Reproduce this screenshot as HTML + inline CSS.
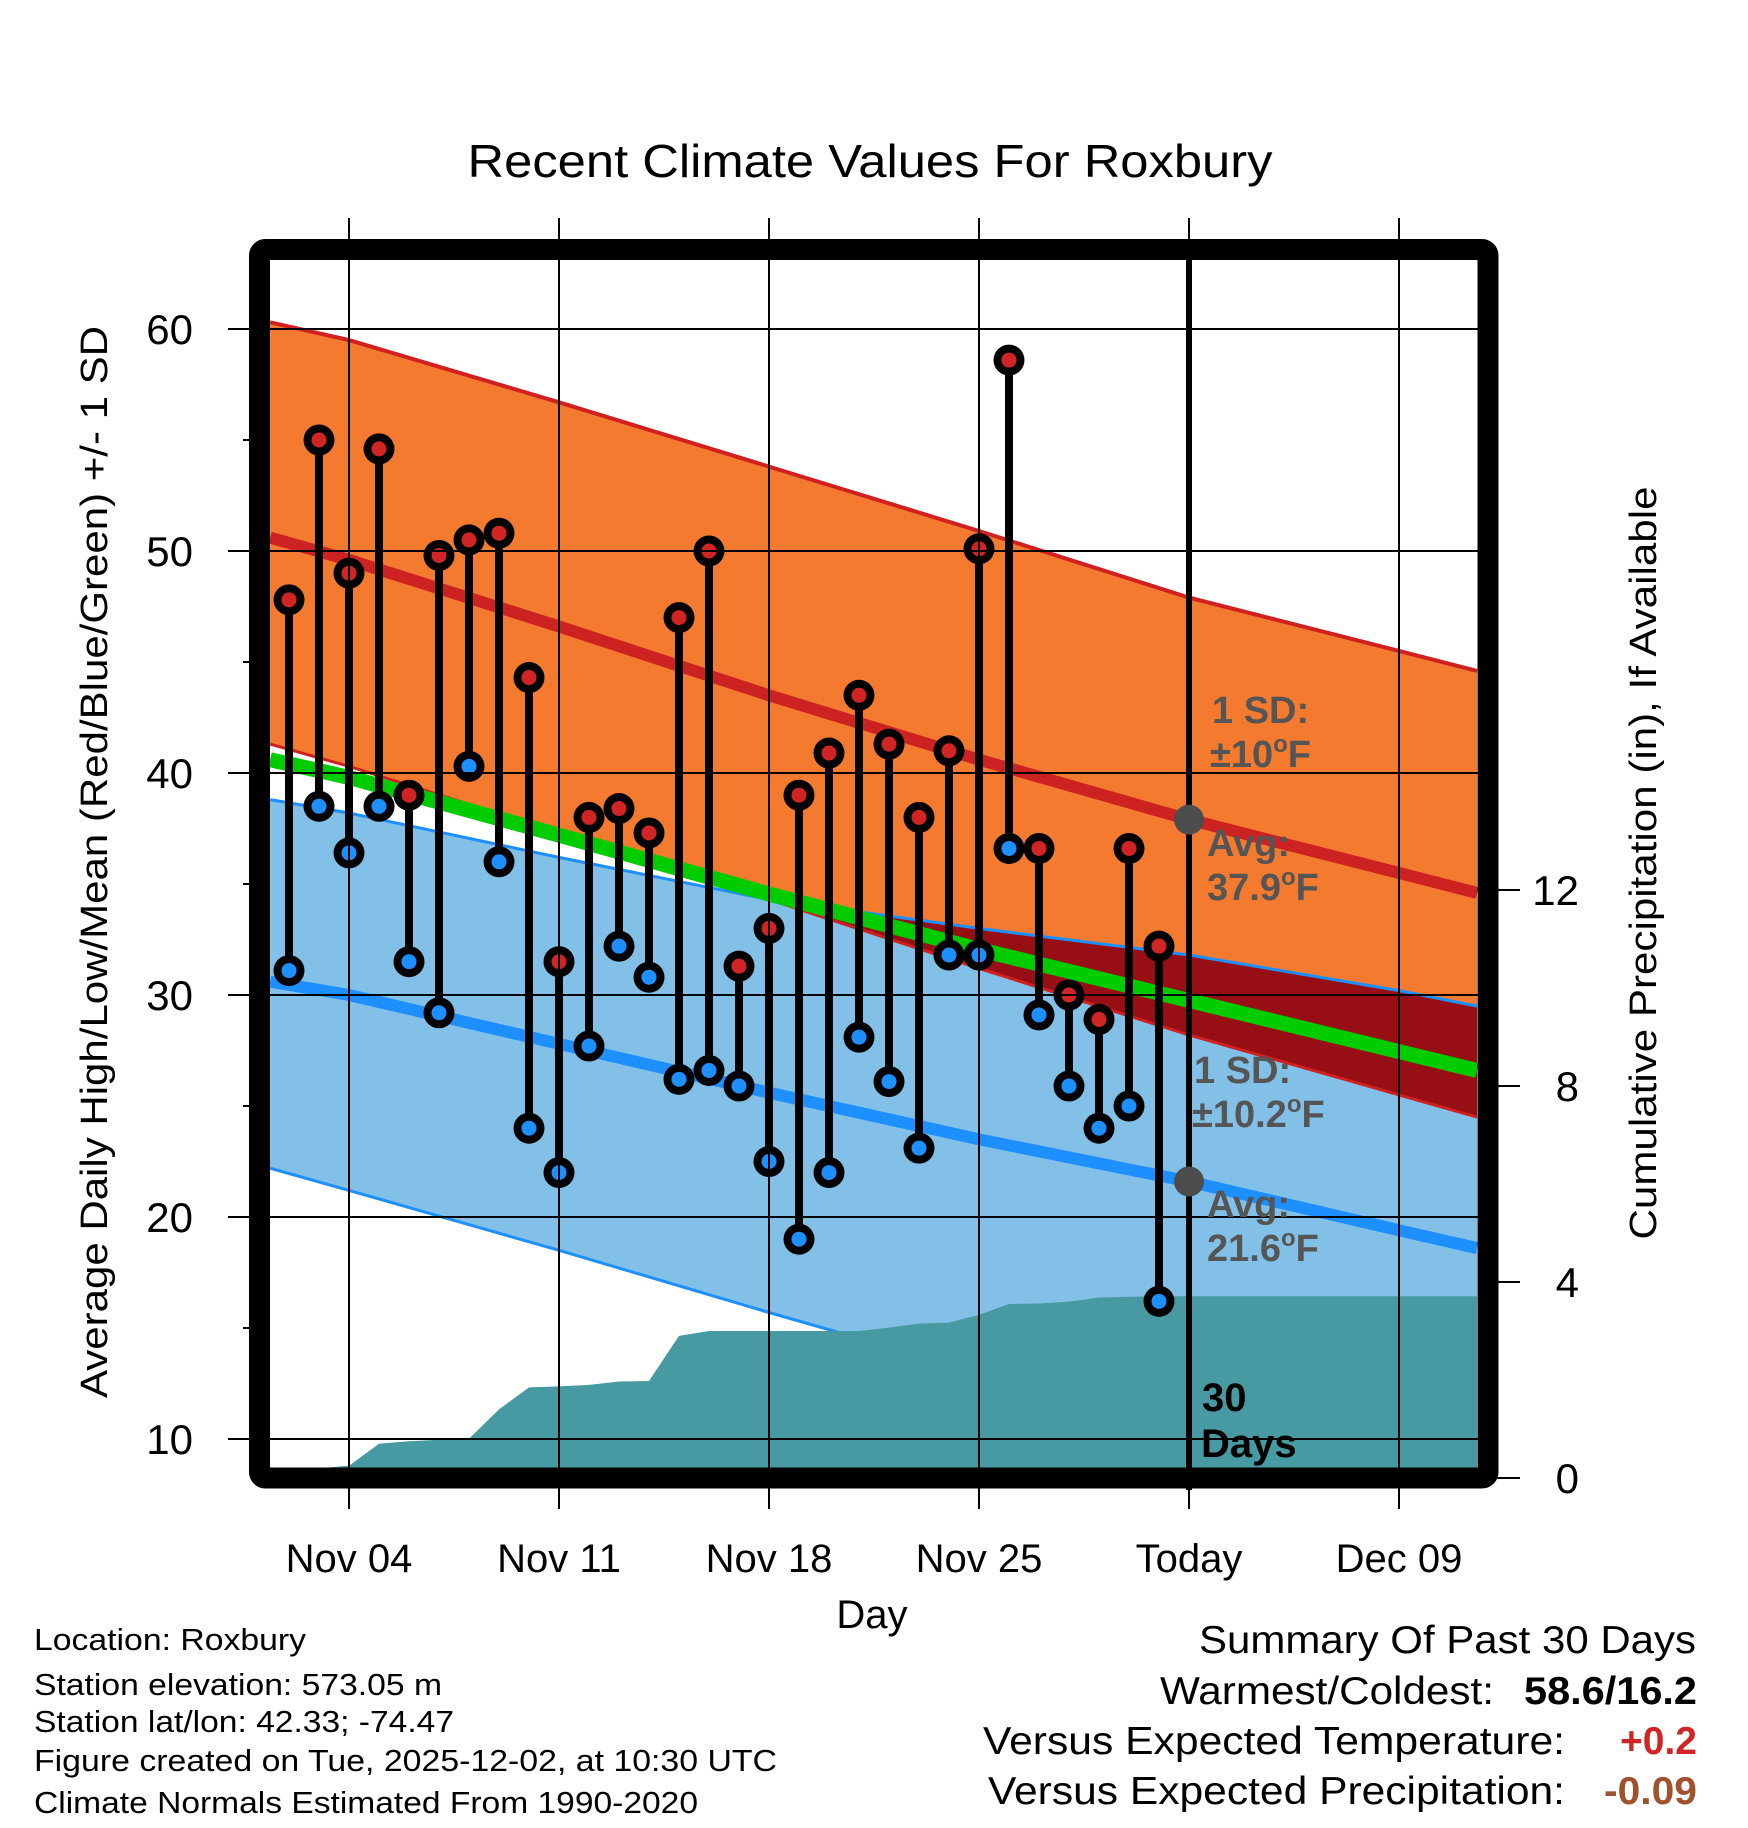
<!DOCTYPE html>
<html><head><meta charset="utf-8"><title>Recent Climate Values For Roxbury</title>
<style>html,body{margin:0;padding:0;background:#fff;}svg{display:block;font-family:"Liberation Sans",Arial,sans-serif;}</style>
</head><body>
<svg id="chart" width="1748" height="1828" viewBox="0 0 1748 1828" xmlns="http://www.w3.org/2000/svg">
<defs>
<clipPath id="plotClip"><rect x="270" y="260" width="1208" height="1208"/></clipPath>
</defs>
<g id="layer"></g>
</svg>
<script>
// ---- data ----
const obsDays = [2,3,4,5,6,7,8,9,10,11,12,13,14,15,16,17,18,19,20,21,22,23,24,25,26,27,28,29,30,31];
const highs = [47.8,55.0,49.0,54.6,39.0,49.8,50.5,50.8,44.3,31.5,38.0,38.4,37.3,47.0,50.0,31.3,33.0,39.0,40.9,43.5,41.3,38.0,41.0,50.1,58.6,36.6,30.0,28.9,36.6,32.2];
const lows = [31.1,38.5,36.4,38.5,31.5,29.2,40.3,36.0,24.0,22.0,27.7,32.2,30.8,26.2,26.6,25.9,22.5,19.0,22.0,28.1,26.1,23.1,31.8,31.8,36.6,29.1,25.9,24.0,25.0,16.2];
const precipCum = [0,0.2,0.25,0.7,0.75,0.78,0.8,1.4,1.85,1.87,1.9,1.97,1.98,2.9,3.0,3.0,3.0,3.0,3.0,3.0,3.07,3.15,3.17,3.33,3.55,3.56,3.6,3.68,3.7,3.71];
const normDays = [1.37,4,11,18,25,32,39,41.6];
const normHigh = [50.6,49.6,46.6,43.5,40.6,37.9,35.5,34.6];
const normHighPlus = [60.3,59.5,56.7,53.8,50.9,47.9,45.5,44.6];
const normHighMinus = [41.3,40.3,37.3,34.3,31.2,28.2,25.5,24.5];
const normLow = [30.6,30.0,27.8,25.6,23.5,21.6,19.4,18.6];
const normLowPlus = [38.8,38.2,36.2,34.3,33.0,31.8,30.2,29.5];
const normLowMinus = [22.2,21.2,18.5,15.7,13.0,10.3,7.6,6.6];
const xTickDays = [4,11,18,25,32,39];
const xTickLabels = ["Nov 04","Nov 11","Nov 18","Nov 25","Today","Dec 09"];
const yTicks = [10,20,30,40,50,60];
const yMinorTicks = [15,25,35,45,55];
const precipTicks = [0,4,8,12];

// ---- scales ----
const X = d => 349 + (d - 4) * 30;
const Y = t => 329 + (60 - t) * 22.2;
const P = p => 1478 - 49 * p;
const NS = "http://www.w3.org/2000/svg";
const root = document.getElementById('layer');
function mk(tag, attrs, parent) {
  const e = document.createElementNS(NS, tag);
  for (const k in attrs) e.setAttribute(k, attrs[k]);
  (parent || root).appendChild(e);
  return e;
}
const pts = (days, vals) => days.map((d, i) => X(d).toFixed(1) + ',' + Y(vals[i]).toFixed(1));
const bandPts = (a, b) => pts(normDays, a).concat(pts(normDays, b).reverse()).join(' ');

const plot = mk('g', {'clip-path': 'url(#plotClip)'});



let e = mk('polygon', {points: bandPts(normHighPlus, normHighMinus), fill: '#f47a2f'}, plot);


e = mk('polygon', {points: bandPts(normLowPlus, normLowMinus), fill: '#82c0e7'}, plot);


const defs = document.querySelector('defs');
const cp = mk('clipPath', {id: 'lowClip'}, defs);
mk('polygon', {points: bandPts(normLowPlus, normLowMinus)}, cp);
e = mk('polygon', {points: bandPts(normHighPlus, normHighMinus), fill: '#970f14', 'clip-path': 'url(#lowClip)'}, plot);



const grid = mk('g', {stroke: '#000', 'stroke-width': 2});


yTicks.forEach(t => mk('line', {x1: 228, x2: 1478, y1: Y(t), y2: Y(t)}, grid));
yMinorTicks.forEach(t => mk('line', {x1: 243, x2: 260, y1: Y(t), y2: Y(t)}, grid));
xTickDays.forEach(d => mk('line', {x1: X(d), x2: X(d), y1: 218, y2: 1509}, grid));
precipTicks.forEach(p => mk('line', {x1: 1490, x2: 1520, y1: P(p), y2: P(p)}, grid));

function line(vals, color, w, name) {
  const l = mk('polyline', {points: pts(normDays, vals).join(' '), fill: 'none', stroke: color, 'stroke-width': w}, plot);
  
  
}
line(normHighPlus, '#d02020', 4, 'high-plus-sd-line');
line(normHighMinus, '#d02020', 3, 'high-minus-sd-line');
line(normLowPlus, '#1e8fff', 3, 'low-plus-sd-line');
line(normLowMinus, '#1e8fff', 3, 'low-minus-sd-line');
line(normHigh.map((h, i) => (h + normLow[i]) / 2), '#00cc00', 15, 'mean-normal-line');
line(normHigh, '#cc2222', 12, 'high-normal-line');
line(normLow, '#1e8fff', 12, 'low-normal-line');

const pp = [X(1.37) + ',' + P(0)];
obsDays.forEach((d, i) => pp.push(X(d) + ',' + P(precipCum[i])));
pp.push(X(41.6) + ',' + P(precipCum[precipCum.length - 1]));
pp.push(X(41.6) + ',' + P(0));
e = mk('polygon', {points: pp.join(' '), fill: '#479aa2'}, plot);



obsDays.forEach((d, i) => {
  const g = mk('g', {}, plot);
  
  
  mk('line', {x1: X(d), x2: X(d), y1: Y(highs[i]), y2: Y(lows[i]), stroke: '#000', 'stroke-width': 8}, g);
  mk('circle', {cx: X(d), cy: Y(highs[i]), r: 15.5, fill: '#000'}, g);
  mk('circle', {cx: X(d), cy: Y(highs[i]), r: 7.5, fill: '#d12525'}, g);
  mk('circle', {cx: X(d), cy: Y(lows[i]), r: 15.5, fill: '#000'}, g);
  mk('circle', {cx: X(d), cy: Y(lows[i]), r: 7.5, fill: '#1e8fff'}, g);
});

e = mk('line', {x1: X(32), x2: X(32), y1: 260, y2: 1490, stroke: '#000', 'stroke-width': 6});


e = mk('circle', {cx: X(32), cy: Y(37.9), r: 15, fill: '#4d4d4d'});


e = mk('circle', {cx: X(32), cy: Y(21.6), r: 15, fill: '#4d4d4d'});



e = mk('rect', {x: 259.5, y: 249.5, width: 1228.5, height: 1228.5, rx: 6, fill: 'none', stroke: '#000', 'stroke-width': 21});



yTicks.forEach(t => {
  const tx = mk('text', {x: 193, y: Y(t) + 15, 'text-anchor': 'end', 'font-size': 42}, root);
  tx.textContent = String(t);
  
  
});
xTickDays.forEach((d, i) => {
  const tx = mk('text', {x: X(d), y: 1572, 'text-anchor': 'middle', 'font-size': 40}, root);
  tx.textContent = xTickLabels[i];
  
  
});
precipTicks.forEach(p => {
  const tx = mk('text', {x: 1579, y: P(p) + 15, 'text-anchor': 'end', 'font-size': 42}, root);
  tx.textContent = String(p);
  
  
});
</script>
<script>
(function(){
const svg = document.getElementById('chart');
svg.insertAdjacentHTML('beforeend', `
<text x="870" y="177" text-anchor="middle" font-size="46" textLength="805" lengthAdjust="spacingAndGlyphs">Recent Climate Values For Roxbury</text>
<text transform="translate(107,862) rotate(-90)" text-anchor="middle" font-size="38" textLength="1072" lengthAdjust="spacingAndGlyphs">Average Daily High/Low/Mean (Red/Blue/Green) +/- 1 SD</text>
<text transform="translate(1656,863) rotate(-90)" text-anchor="middle" font-size="38" textLength="753" lengthAdjust="spacingAndGlyphs">Cumulative Precipitation (in), If Available</text>
<text x="872" y="1628" text-anchor="middle" font-size="40">Day</text>
<g font-weight="bold" font-size="38" fill="#555">
<text x="1212" y="723">1 SD:</text>
<text x="1210" y="767">±10<tspan font-size="24" dy="-15">o</tspan><tspan dy="15">F</tspan></text>
<text x="1207" y="856">Avg:</text>
<text x="1207" y="900">37.9<tspan font-size="24" dy="-15">o</tspan><tspan dy="15">F</tspan></text>
<text x="1194" y="1083">1 SD:</text>
<text x="1192" y="1127">±10.2<tspan font-size="24" dy="-15">o</tspan><tspan dy="15">F</tspan></text>
<text x="1207" y="1217">Avg:</text>
<text x="1207" y="1261">21.6<tspan font-size="24" dy="-15">o</tspan><tspan dy="15">F</tspan></text>
</g>
<g font-weight="bold" font-size="40" fill="#000">
<text x="1202" y="1411">30</text>
<text x="1201" y="1457">Days</text>
</g>
<g font-size="31">
<text x="34" y="1650" textLength="272" lengthAdjust="spacingAndGlyphs">Location: Roxbury</text>
<text x="34" y="1695" textLength="408" lengthAdjust="spacingAndGlyphs">Station elevation: 573.05 m</text>
<text x="34" y="1732" textLength="420" lengthAdjust="spacingAndGlyphs">Station lat/lon: 42.33; -74.47</text>
<text x="34" y="1771" textLength="743" lengthAdjust="spacingAndGlyphs">Figure created on Tue, 2025-12-02, at 10:30 UTC</text>
<text x="34" y="1813" textLength="664" lengthAdjust="spacingAndGlyphs">Climate Normals Estimated From 1990-2020</text>
</g>
<g font-size="39">
<text x="1199" y="1653" textLength="497" lengthAdjust="spacingAndGlyphs">Summary Of Past 30 Days</text>
<text x="1160" y="1704" textLength="334" lengthAdjust="spacingAndGlyphs">Warmest/Coldest:</text>
<text x="1524" y="1704" font-weight="bold" textLength="173" lengthAdjust="spacingAndGlyphs">58.6/16.2</text>
<text x="983" y="1754" textLength="582" lengthAdjust="spacingAndGlyphs">Versus Expected Temperature:</text>
<text x="1620" y="1754" font-weight="bold" fill="#d12525" textLength="77" lengthAdjust="spacingAndGlyphs">+0.2</text>
<text x="988" y="1804" textLength="577" lengthAdjust="spacingAndGlyphs">Versus Expected Precipitation:</text>
<text x="1604" y="1804" font-weight="bold" fill="#a0522d" textLength="93" lengthAdjust="spacingAndGlyphs">-0.09</text>
</g>`);
})();
</script>
</body></html>
